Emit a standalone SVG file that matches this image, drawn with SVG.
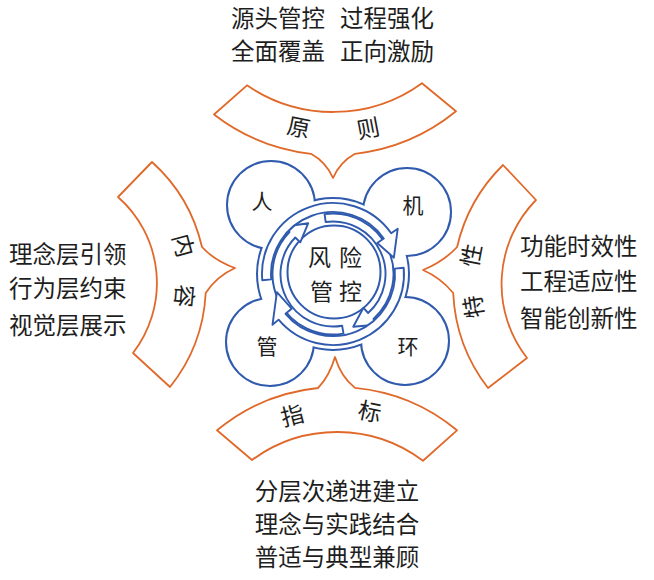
<svg xmlns="http://www.w3.org/2000/svg" width="654" height="580" viewBox="0 0 654 580">
<style>
text{font-family:"Noto Sans CJK SC","Noto Sans",sans-serif;fill:#1e1e1e}
.band{fill:#fff;stroke:#e0692a;stroke-width:1.8;stroke-linejoin:round}
.lbl{font-size:23px;text-anchor:middle;dominant-baseline:central}
.out{font-size:23.5px}
.node{font-size:21px;text-anchor:middle;dominant-baseline:central}
.hub{font-size:23px;text-anchor:middle;dominant-baseline:central}
.blobS{fill:#fff;stroke:#2f5aae;stroke-width:4}
.blobF{fill:#fff;stroke:none}
.arr{fill:#fff;stroke:#2f5aae;stroke-width:1.9;stroke-linejoin:round}
</style>
<rect width="654" height="580" fill="#fff"/>

<g id="band-top">
<path class="band" d="M247,85.3 A152,152 0 0 0 422,83.2 L456,111.3 A195,195 0 0 1 355,153.8 Q340,162 333,178 Q326,162 311,153.8 A195,195 0 0 1 214,114.5 Z"/>
<text class="lbl" transform="translate(299,126) rotate(11)">原</text>
<text class="lbl" transform="translate(368,127) rotate(-11)">则</text>
</g>

<g id="band-left">
<path class="band" d="M152,162 A164,164 0 0 1 202,247 Q215,261 235,268 Q217,276 205.7,293 A164,164 0 0 1 170,387 L133,353 A114.5,114.5 0 0 0 118,197 Z"/>
<text class="lbl" transform="translate(185,245) rotate(75)">内</text>
<text class="lbl" transform="translate(186,296) rotate(95)">容</text>
</g>

<g id="band-right">
<path class="band" d="M503,165 L536,200 A120,120 0 0 0 527,358 L488,388 A168,168 0 0 1 453.2,293 Q441,278 423,270 Q443,262 457.1,247 A168,168 0 0 1 503,165 Z"/>
<text class="lbl" transform="translate(470,255) rotate(-79)">性</text>
<text class="lbl" transform="translate(472,307) rotate(-99)">特</text>
</g>

<g id="band-bottom">
<path class="band" d="M217,430.3 A188,188 0 0 1 318,388 Q329,377 335,357 Q341,377 355,387.9 A188,188 0 0 1 457,430.3 L423,460.75 A143,143 0 0 0 252,460 Z"/>
<text class="lbl" transform="translate(292,414) rotate(-14)">指</text>
<text class="lbl" transform="translate(370,410) rotate(12)">标</text>
</g>

<g id="hub">
<circle class="blobS" cx="333" cy="274" r="75"/>
<circle class="blobS" cx="271" cy="205" r="43"/>
<circle class="blobS" cx="407" cy="212" r="43"/>
<circle class="blobS" cx="270" cy="342" r="43"/>
<circle class="blobS" cx="405" cy="341" r="43"/>
<circle class="blobF" cx="333" cy="274" r="75"/>
<circle class="blobF" cx="271" cy="205" r="43"/>
<circle class="blobF" cx="407" cy="212" r="43"/>
<circle class="blobF" cx="270" cy="342" r="43"/>
<circle class="blobF" cx="405" cy="341" r="43"/>
</g>

<g id="node-ren"><text class="node" x="262" y="200">人</text></g>
<g id="node-ji"><text class="node" x="413" y="204">机</text></g>
<g id="node-guan"><text class="node" x="267" y="345">管</text></g>
<g id="node-huan"><text class="node" x="408" y="345">环</text></g>

<g id="center">
<circle cx="334" cy="272" r="46.5" fill="#fff" stroke="#2f5aae" stroke-width="2"/>
</g>

<g id="connectors">
<path class="arr" d="M343.50,333.58 A60.5,60.5 0 0 1 289.48,231.97 L284.09,226.76 L308.23,223.22 L300.27,242.39 L295.24,237.53 A52.5,52.5 0 0 0 342.12,325.70 Z"/>
<path class="arr" d="M324.58,214.09 A60.5,60.5 0 0 1 373.48,318.96 L378.50,324.53 L353.25,326.75 L363.44,307.81 L368.13,313.01 A52.5,52.5 0 0 0 325.69,222.01 Z"/>
<path class="arr" d="M262.27,280.19 A71,71 0 0 1 391.16,233.27 L397.72,228.69 L393.85,257.70 L377.24,243.03 L383.79,238.44 A62,62 0 0 0 271.24,279.41 Z"/>
<path class="arr" d="M403.73,267.81 A71,71 0 0 1 278.61,319.64 L272.49,324.78 L276.89,292.23 L291.64,308.71 L285.51,313.85 A62,62 0 0 0 394.76,268.60 Z"/>
</g>

<g id="center-label">
<text class="hub" x="319.5" y="256">风</text>
<text class="hub" x="350.5" y="256">险</text>
<text class="hub" x="321.5" y="289.5">管</text>
<text class="hub" x="350.5" y="289.5">控</text>
</g>

<g id="text-top">
<text class="out" x="231" y="27">源头管控</text>
<text class="out" x="340" y="27">过程强化</text>
<text class="out" x="231" y="60">全面覆盖</text>
<text class="out" x="340" y="60">正向激励</text>
</g>
<g id="text-left">
<text class="out" x="9" y="263">理念层引领</text>
<text class="out" x="9" y="297">行为层约束</text>
<text class="out" x="9" y="334">视觉层展示</text>
</g>
<g id="text-right">
<text class="out" x="520" y="255">功能时效性</text>
<text class="out" x="520" y="290">工程适应性</text>
<text class="out" x="520" y="327">智能创新性</text>
</g>
<g id="text-bottom">
<text class="out" x="337" y="500" text-anchor="middle">分层次递进建立</text>
<text class="out" x="337" y="533" text-anchor="middle">理念与实践结合</text>
<text class="out" x="337" y="566" text-anchor="middle">普适与典型兼顾</text>
</g>
</svg>
